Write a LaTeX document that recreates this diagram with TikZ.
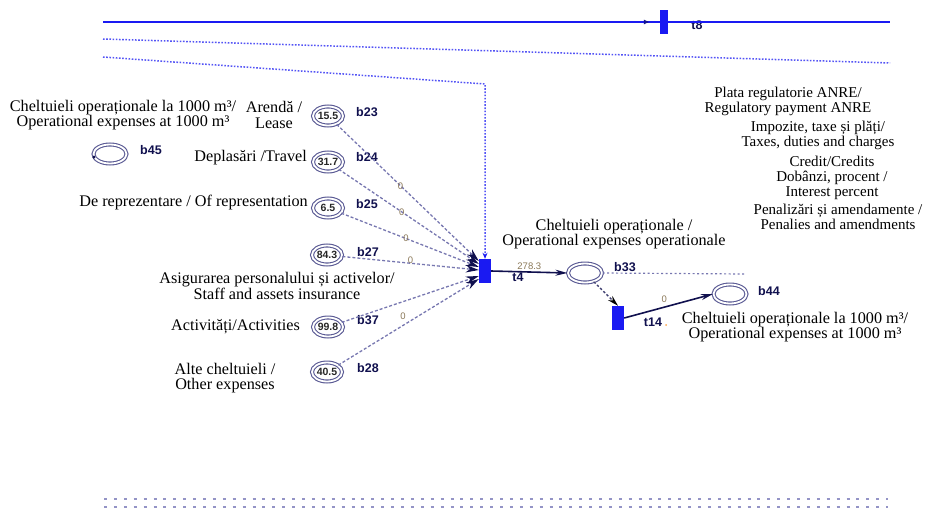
\documentclass[tikz,border=0pt]{standalone}
\usepackage{fontspec}
\setmainfont{Liberation Serif}
\newfontfamily\lblfont{Liberation Sans}
\usetikzlibrary{shapes.geometric,arrows.meta,calc}

\definecolor{netblue}{HTML}{1A1AF2}
\definecolor{ringcol}{HTML}{5A5A94}
\definecolor{arcgray}{HTML}{7777B0}
\definecolor{navy}{HTML}{10104E}
\definecolor{weightcol}{HTML}{8A7858}
\definecolor{railcol}{HTML}{9494C6}

\tikzset{
  place/.style={ellipse, draw=ringcol, double=white, double distance=1.8pt,
    line width=1.1pt, minimum width=30pt, minimum height=19pt, inner sep=0pt},
  token/.style={font=\lblfont\bfseries\fontsize{10.5}{10.5}\selectfont, text=black!85},
  trans/.style={rectangle, fill=netblue, draw=none, minimum width=12pt,
    minimum height=24pt, inner sep=0pt},
  caption/.style={font=\fontsize{16.2}{15.5}\selectfont, align=center, inner sep=0pt},
  smallcaption/.style={caption, font=\fontsize{15}{15}\selectfont},
  pname/.style={font=\lblfont\bfseries\fontsize{12.5}{12.5}\selectfont, text=navy, inner sep=0pt},
  weight/.style={font=\lblfont\fontsize{9.5}{9.5}\selectfont, text=weightcol, inner sep=0.5pt},
  inarc/.style={draw=arcgray, line width=1.3pt, dash pattern=on 3pt off 2pt,
    -{Stealth[length=13pt,width=7.5pt,color=navy]}},
  solidarc/.style={draw=navy, line width=1.6pt, -{Stealth[length=12pt,width=6pt]}},
  bluedots/.style={draw=netblue!75, line width=1.5pt, dash pattern=on 1.6pt off 1.6pt},
  rail/.style={draw=railcol, line width=2.6pt, dash pattern=on 3pt off 6.9pt},
}

\begin{document}
\begin{tikzpicture}[x=1pt,y=-1pt]
\useasboundingbox (0,0) rectangle (925,511);

% ---- transition t8 on the top solid line
\node[trans, minimum width=8pt] (t8) at (664,22) {};
\node[pname] (t8n) at (697,25) {t8};
\coordinate (l8) at (103,22);
\coordinate (r8) at (890,22);
\draw[netblue, line width=1.2pt] (l8) -- (r8);
\draw[netblue, line width=1.2pt, -{Latex[length=6pt,width=5pt,color=navy!60!netblue]}]
  (l8) -- ([xshift=-10pt]t8.west);

% ---- dotted rail at the top
\coordinate (d1a) at (103,39);
\coordinate (d1b) at (890,63);
\draw[bluedots] (d1a) -- (d1b);

% ---- transitions and places of the main net
\node[trans] (t4)  at (485,271) {};
\node[trans] (t14) at (618,318) {};

\node[place, label={[token]center:15.5}] (b23) at (328,116) {};
\node[place, label={[token]center:31.7}] (b24) at (328,162) {};
\node[place, label={[token]center:6.5}]  (b25) at (328,208) {};
\node[place, label={[token]center:84.3}] (b27) at (327,255) {};
\node[place, label={[token]center:99.8}] (b37) at (328,327) {};
\node[place, label={[token]center:40.5}] (b28) at (327,372) {};
\node[place, minimum width=33pt] (b45) at (110,154) {};
\node[place, minimum width=34pt] (b33) at (585,273) {};
\node[place, minimum width=33pt] (b44) at (730,294) {};
\fill[navy] ([xshift=1pt,yshift=-3pt]b45.west) circle (1.7pt);

% place names
\node[pname] (n23) at (367,112) {b23};
\node[pname] (n24) at (367,157) {b24};
\node[pname] (n25) at (367,204) {b25};
\node[pname] (n27) at (368,252) {b27};
\node[pname] (n37) at (368,320) {b37};
\node[pname] (n28) at (368,368) {b28};
\node[pname] (n45) at (151,150) {b45};
\node[pname] (n33) at (625,267) {b33};
\node[pname] (n44) at (769,291) {b44};
\node[pname] (n4)  at (518,277) {t4};
\node[pname] (n14) at (653,322) {t14};
\fill[orange!70] (666,325) circle (1pt);

% ---- dotted input reaching t4 from above
\coordinate (d2a) at (103,57);
\coordinate (d2c) at (485,84);
\draw[bluedots, -{Stealth[length=6pt,width=5pt,color=netblue]}]
  (d2a) -- (d2c) -- (t4.north);

% ---- incoming arcs of t4
\draw[inarc] (b23) -- node[weight, pos=0.45] (w23) {0} ([yshift=10pt]t4.west);
\draw[inarc] (b24) -- node[weight, pos=0.45] (w24) {0} ([yshift=7pt]t4.west);
\draw[inarc] (b25) -- node[weight, pos=0.47] (w25) {0} ([yshift=4pt]t4.west);
\draw[inarc] (b27) -- node[weight, pos=0.50, above=-1pt] (w27) {0} ([yshift=1pt]t4.west);
\draw[inarc] (b37) -- ([yshift=-5pt]t4.west);
\draw[inarc] (b28) -- node[weight, pos=0.46, above=5pt] (w28) {0} ([yshift=-8pt]t4.west);

% ---- output side
\draw[solidarc] (t4.east) -- node[weight, above=1pt, pos=0.5] (w278) {278.3} (b33.west);
\draw[draw=navy!80, line width=1.3pt, dash pattern=on 2.5pt off 2pt,
  -{Stealth[length=11pt,width=6pt,color=black]}] (b33) -- (t14.north);
\draw[solidarc] (t14.east) -- node[weight, above=3pt, pos=0.45] (w14) {0} (b44.west);
\coordinate (b33out) at (745,274);
\draw[draw=arcgray, line width=1.2pt, dash pattern=on 2pt off 2.5pt] (b33.east) -- (b33out);

% ---- captions
\node[caption] (c45) at (123,115)
  {Cheltuieli operaționale la 1000 m³/\\Operational expenses at 1000 m³};
\node[caption] (c23) at (274,115) {Arendă /\\Lease};
\node[caption, anchor=east] (c24) at (307,158) {Deplasări /Travel};
\node[caption, anchor=east] (c25) at (308,203) {De reprezentare / Of representation};
\node[caption] (c27) at (277,286) {Asigurarea personalului și activelor/\\Staff and assets insurance};
\node[caption, anchor=east] (c37) at (300,327) {Activități/Activities};
\node[caption] (c28) at (225,378) {Alte cheltuieli /\\Other expenses};
\node[caption] (c33) at (614,234) {Cheltuieli operaționale /\\Operational expenses operationale};
\node[caption] (c44) at (795,327)
  {Cheltuieli operaționale la 1000 m³/\\Operational expenses at 1000 m³};
\node[smallcaption] (cp1) at (788,101) {Plata regulatorie ANRE/\\Regulatory payment ANRE};
\node[smallcaption] (cp2) at (818,135) {Impozite, taxe și plăți/\\Taxes, duties and charges};
\node[smallcaption] (cp3) at (832,178) {Credit/Credits\\Dobânzi, procent /\\Interest percent};
\node[smallcaption] (cp5) at (838,217) {Penalizări și amendamente /\\Penalies and amendments};

% ---- dotted rails at the bottom
\coordinate (ra) at (104,499);
\coordinate (rb) at (888,499);
\coordinate (rc) at (104,507);
\coordinate (rd) at (888,507);
\draw[rail] (ra) -- (rb);
\draw[rail] (rc) -- (rd);
\end{tikzpicture}
\end{document}
